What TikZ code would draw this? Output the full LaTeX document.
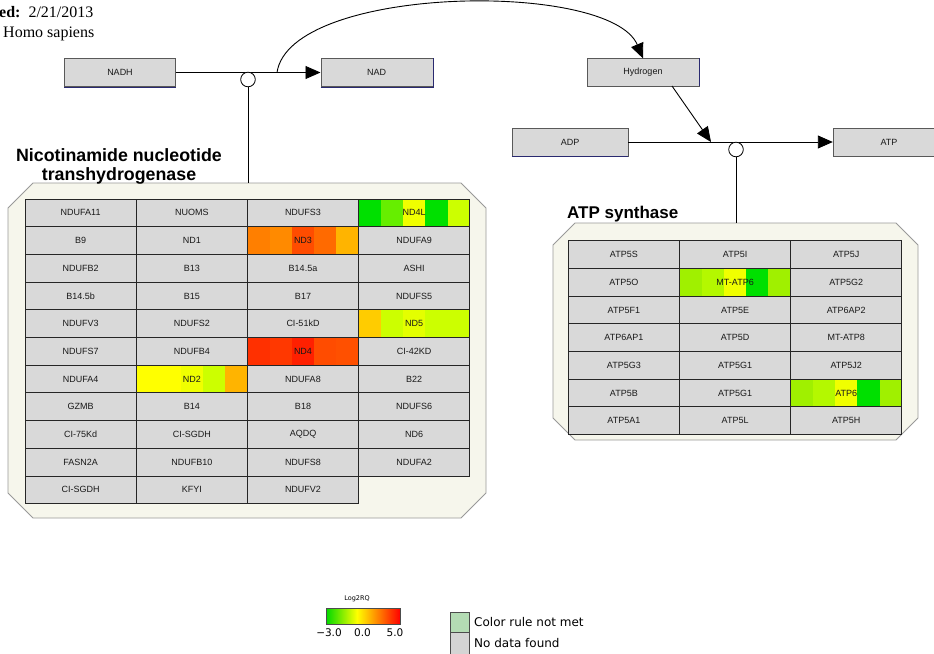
\documentclass[tikz,border=0pt]{standalone}
\usepackage{fontspec}
\setmainfont{Liberation Serif}
\newfontfamily\cellfont{Liberation Sans}
\newfontfamily\legfont{DejaVu Sans}
\usepackage{tikz}
\usetikzlibrary{positioning}
\usetikzlibrary{arrows.meta}

\definecolor{cellgray}{HTML}{D9D9D9}
\definecolor{groupfill}{HTML}{F6F6EC}
\definecolor{edgeblue}{HTML}{2A2A70}
\definecolor{grA}{HTML}{00E000}
\definecolor{grB}{HTML}{66EE00}
\definecolor{grC}{HTML}{A0F000}
\definecolor{grD}{HTML}{B4F800}
\definecolor{yeA}{HTML}{F0FF00}
\definecolor{yeB}{HTML}{FFFF00}
\definecolor{ygA}{HTML}{CCFF00}
\definecolor{ygB}{HTML}{E4FF00}
\definecolor{goA}{HTML}{FFCC00}
\definecolor{orA}{HTML}{FF7F00}
\definecolor{orB}{HTML}{FF8A00}
\definecolor{orC}{HTML}{FF6A00}
\definecolor{orD}{HTML}{FFB400}
\definecolor{rdA}{HTML}{FF4C00}
\definecolor{rdB}{HTML}{FF3000}
\definecolor{rdC}{HTML}{FF3800}
\definecolor{rdD}{HTML}{FF2000}
\definecolor{rdE}{HTML}{FF5000}
\definecolor{rulegreen}{HTML}{B4DCB4}
\definecolor{nodatagray}{HTML}{D4D4D4}

\tikzset{
  species/.style={draw=black!65, fill=cellgray, minimum width=111pt, minimum height=28pt,
    inner sep=0pt, text=black!90, font=\cellfont\fontsize{9}{10}\selectfont},
  cell/.style={draw=black!85, line width=0.9pt, minimum width=111.2pt, minimum height=27.7pt,
    inner sep=0pt, text=black!90, font=\cellfont\fontsize{9}{10}\selectfont},
  group/.style={draw=black!40, fill=groupfill, line width=0.8pt},
  junction/.style={circle, draw, fill=white, minimum size=14.6pt, inner sep=0pt, line width=0.8pt},
  conv/.style={line width=0.9pt, -{Triangle[length=15pt,width=13pt]}},
  heading/.style={font=\cellfont\bfseries\fontsize{17}{19}\selectfont, inner sep=0pt},
  legtext/.style={font=\legfont\fontsize{12}{13}\selectfont, inner sep=0pt},
  legnum/.style={font=\legfont\fontsize{10.5}{12}\selectfont, inner sep=0pt, anchor=base},
}

% five coloured bands of one data cell
\newcommand{\stripes}[3]{%
  \foreach \sc [count=\k from 0] in {#3}
    \fill[\sc] (#1+\k*22.24, #2) rectangle ++(22.24, 27.7);}

\begin{document}
\begin{tikzpicture}[x=1pt, y=-1pt]
\useasboundingbox (0,0) rectangle (934,653);

% header
\node[anchor=base west, inner sep=0pt, font=\fontsize{16}{18}\selectfont] (date) at (-1,17) {\textbf{ed:}~~2/21/2013};
\node[anchor=base west, inner sep=0pt, font=\fontsize{16}{18}\selectfont] (species) at (3,37) {Homo sapiens};

% groups
\draw[group] (8,208) -- (33,183) -- (461,183) -- (486,208) -- (486,493) -- (461,518) -- (33,518) -- (8,493) -- cycle;
\coordinate (nntTop) at (248,183);
\draw[group] (553,245) -- (575,223) -- (896,223) -- (918,245) -- (918,418) -- (896,440) -- (575,440) -- (553,418) -- cycle;
\coordinate (atpsTop) at (736,223);

% coloured cells
\stripes{358.6}{199}{grA,grB,yeA,grA,ygA}
\stripes{247.4}{226.7}{orA,orB,rdA,orC,orD}
\stripes{358.6}{309.8}{goA,ygA,ygB,ygA,ygA}
\stripes{247.4}{337.5}{rdB,rdC,rdD,rdA,rdE}
\stripes{136.2}{365.2}{yeB,yeB,yeA,ygA,orD}
\stripes{679.5}{268.4}{grC,grD,yeA,grA,grC}
\stripes{790.7}{379.2}{grC,grD,yeA,grA,grC}

% nicotinamide nucleotide transhydrogenase
\foreach \lab/\fc [count=\i from 0] in {NDUFA11/cellgray, NUOMS/cellgray, NDUFS3/cellgray, ND4L/none,
  B9/cellgray, ND1/cellgray, ND3/none, NDUFA9/cellgray,
  NDUFB2/cellgray, B13/cellgray, B14.5a/cellgray, ASHI/cellgray,
  B14.5b/cellgray, B15/cellgray, B17/cellgray, NDUFS5/cellgray,
  NDUFV3/cellgray, NDUFS2/cellgray, CI-51kD/cellgray, ND5/none,
  NDUFS7/cellgray, NDUFB4/cellgray, ND4/none, CI-42KD/cellgray,
  NDUFA4/cellgray, ND2/none, NDUFA8/cellgray, B22/cellgray,
  GZMB/cellgray, B14/cellgray, B18/cellgray, NDUFS6/cellgray,
  CI-75Kd/cellgray, CI-SGDH/cellgray, AQDQ/cellgray, ND6/cellgray,
  FASN2A/cellgray, NDUFB10/cellgray, NDUFS8/cellgray, NDUFA2/cellgray,
  CI-SGDH/cellgray, KFYI/cellgray, NDUFV2/cellgray}
{
  \pgfmathtruncatemacro\col{mod(\i,4)}
  \pgfmathtruncatemacro\row{div(\i,4)}
  \node[cell, fill=\fc] (l\i) at (80.6+\col*111.2, 212.85+\row*27.7) {\lab};
}
\node[heading, font=\cellfont\bfseries\fontsize{17.8}{19}\selectfont, anchor=north, align=center] (nntName) at (119,148) {Nicotinamide nucleotide\\transhydrogenase};

% ATP synthase
\foreach \lab/\fc [count=\i from 0] in {ATP5S/cellgray, ATP5I/cellgray, ATP5J/cellgray,
  ATP5O/cellgray, MT-ATP6/none, ATP5G2/cellgray,
  ATP5F1/cellgray, ATP5E/cellgray, ATP6AP2/cellgray,
  ATP6AP1/cellgray, ATP5D/cellgray, MT-ATP8/cellgray,
  ATP5G3/cellgray, ATP5G1/cellgray, ATP5J2/cellgray,
  ATP5B/cellgray, ATP5G1/cellgray, ATP6/none,
  ATP5A1/cellgray, ATP5L/cellgray, ATP5H/cellgray}
{
  \pgfmathtruncatemacro\col{mod(\i,3)}
  \pgfmathtruncatemacro\row{div(\i,3)}
  \node[cell, fill=\fc] (r\i) at (623.9+\col*111.2, 254.55+\row*27.7) {\lab};
}
\node[heading, anchor=base west] (atpsName) at (567,218.3) {ATP synthase};

% metabolites
\node[species] (NADH) at (120,72.5) {NADH};
\node[species, minimum width=112pt] (NAD) at (376.7,72.5) {NAD};
\node[species, minimum width=112pt, minimum height=27.5pt] (Hydrogen) at (643,72.3) {Hydrogen};
\node[species, minimum width=116pt] (ADP) at (570,142) {ADP};
\node[species, minimum width=112pt] (ATP) at (889,142) {ATP};
\draw[edgeblue] (NADH.south west) -- (NADH.south east);
\draw[edgeblue] (NAD.south west) -- (NAD.south east) -- (NAD.north east);
\draw[edgeblue] (Hydrogen.south east) -- (Hydrogen.north east);
\draw[edgeblue] (ADP.south west) -- (ADP.south east);

% reactions
\draw[conv] (NADH) -- (NAD);
\node[junction] (jn1) at (248,79.5) {};
\draw[line width=0.9pt] (jn1.south) -- (jn1.south |- nntTop);
\coordinate (branch) at (277,72.5);
\draw[conv] (branch) .. controls (290,-15) and (610,-20) .. (Hydrogen.north);

\draw[conv] (ADP) -- (ATP);
\node[junction] (jn2) at (736,149.5) {};
\draw[line width=0.9pt] (jn2.south) -- (jn2.south |- atpsTop);
\coordinate (hOut) at (672,86);
\coordinate (merge) at (711,142);
\draw[conv] (hOut) -- (merge);

% legend
\node[font=\legfont\fontsize{6.5}{7}\selectfont, inner sep=0pt] (legTitle) at (357,599) {Log2RQ};
\shade[left color=green!85!black, right color=yeB] (326,608.3) rectangle (357,624.3);
\shade[left color=yeB, right color=red] (357,608.3) rectangle (400,624.3);
\draw[black!70, line width=0.6pt] (326,608.3) rectangle (400,624.3);
\node[legnum] (legMin) at (329,636.5) {−3.0};
\node[legnum] (legMid) at (362.5,636.5) {0.0};
\node[legnum] (legMax) at (395,636.5) {5.0};
\draw[black!70, fill=rulegreen, line width=0.7pt] (450,612) rectangle (469,632);
\draw[black!70, fill=nodatagray, line width=0.7pt] (450,632) rectangle (469,655);
\node[legtext, anchor=west] (ruleText) at (474,622) {Color rule not met};
\node[legtext, anchor=west] (nodataText) at (474,643.5) {No data found};
\end{tikzpicture}
\end{document}
